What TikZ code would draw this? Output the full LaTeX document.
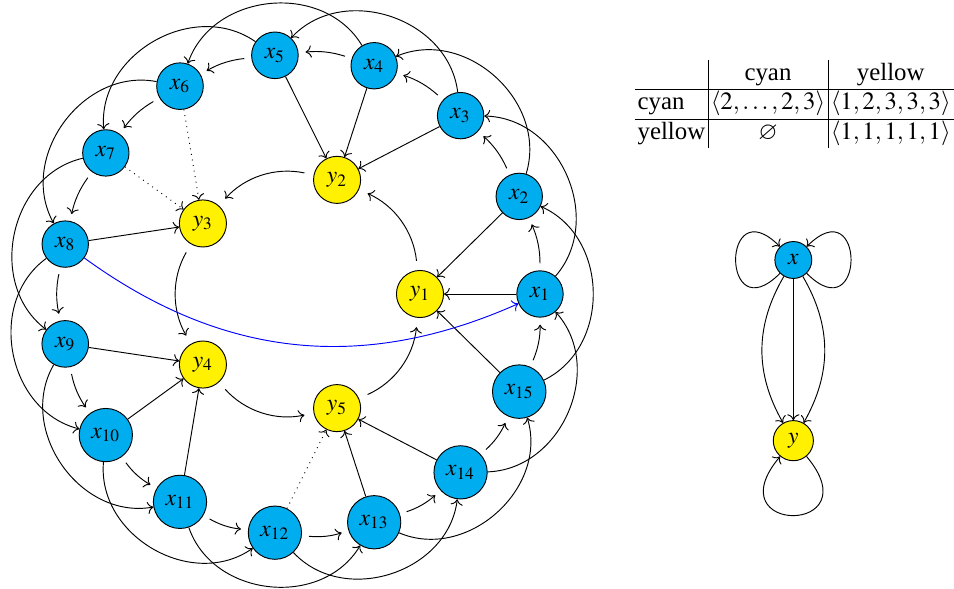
\documentclass[tikz,border=0pt]{standalone}
\usepackage{amsmath, amssymb}
\usepackage{mathptmx}
\usepackage{fontspec}
\setmainfont{Liberation Serif}
\usetikzlibrary{arrows.meta}

\definecolor{cyannode}{RGB}{0,174,239}
\definecolor{yellownode}{RGB}{255,241,0}
\setlength{\tabcolsep}{1.2pt}

\begin{document}
\begin{tikzpicture}[
  vx/.style={circle, draw, fill=cyannode},
  vy/.style={circle, draw, fill=yellownode},
  near/.style={->, shorten <=3pt, shorten >=3pt, bend right=12},
  jump/.style={->, bend right=65, looseness=1.1},
  ring/.style={->, shorten <=4pt, shorten >=4pt, bend right=30},
  gone/.style={->, dotted},
]
\useasboundingbox (-4.5,-4.425) rectangle (9.81,4.41);

% the big graph
\foreach \i in {1,...,15}
  \node[vx] (x\i) at ({24*(\i-1)}:3.6) {$x_{\i}$};
\foreach \i in {1,...,5}
  \node[vy] (y\i) at ({72*(\i-1)}:1.8) {$y_{\i}$};

\foreach \i in {1,...,15} {
  \pgfmathtruncatemacro\nxt{mod(\i,15)+1}
  \pgfmathtruncatemacro\hop{mod(\i+1,15)+1}
  \draw[near] (x\i) to (x\nxt);
  \draw[jump] (x\i) to (x\hop);
}
\foreach \i in {1,...,5} {
  \pgfmathtruncatemacro\nxt{mod(\i,5)+1}
  \draw[ring] (y\i) to (y\nxt);
}
\foreach \a/\b in {15/1, 1/1, 2/1, 3/2, 4/2, 5/2, 8/3, 9/4, 10/4, 11/4, 13/5, 14/5}
  \draw[->] (x\a) -- (y\b);
\foreach \a/\b in {6/3, 7/3, 12/5}
  \draw[gone] (x\a) -- (y\b);
\draw[->, blue] (x8) to[bend right=30] (x1);

% the table
\node[inner sep=0pt, anchor=north east] (tbl) at (9.81,3.51) {%
  \fontsize{10.6pt}{12.2pt}\selectfont
  \begin{tabular}{l|c|c}
           & cyan & yellow \\ \hline
    cyan   & $\langle 2,\dots,2,3\rangle$ & $\langle 1,2,3,3,3\rangle$ \\ \hline
    yellow & $\varnothing$ & $\langle 1,1,1,1,1\rangle$
  \end{tabular}};

% the quotient
\node[vx] (x) at (7.4,0.51) {$x$};
\node[vy] (y) at (7.4,-2.2) {$y$};
\draw[->] (x) -- (y);
\draw[->] (x) to[bend right=30] (y);
\draw[->] (x) to[bend left=30] (y);
\draw[->] (x) to[out=225, in=135, looseness=8] (x);
\draw[->] (x) to[out=-45, in=45, looseness=8] (x);
\draw[->] (y) to[out=-50, in=230, looseness=10] (y);
\end{tikzpicture}
\end{document}
